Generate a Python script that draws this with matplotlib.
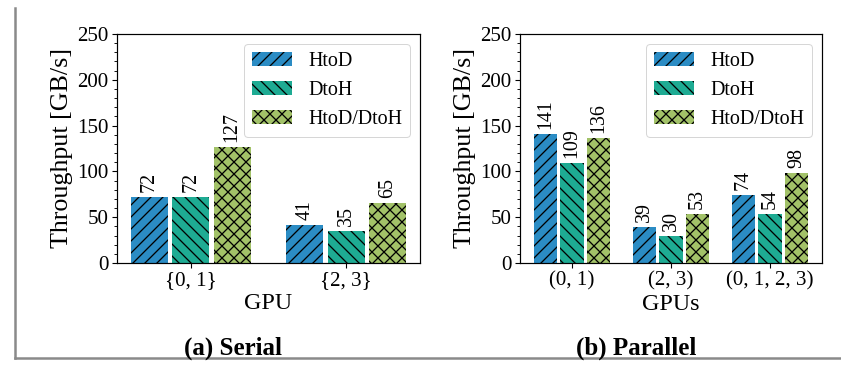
import matplotlib
matplotlib.use("Agg")
import matplotlib.pyplot as plt
import numpy as np
from matplotlib.ticker import MultipleLocator
from matplotlib.lines import Line2D

# datos
modes = ["HtoD", "DtoH", "HtoD/DtoH"]
colors = ["#2b8cc4", "#1eab93", "#a2c268"]
hatches = ["//", "\\\\", "xx"]

serial_labels = ["{0, 1}", "{2, 3}"]
serial_htod = [72, 41]
serial_dtoh = [72, 35]
serial_both = [127, 65]

parallel_labels = ["(0, 1)", "(2, 3)", "(0, 1, 2, 3)"]
parallel_htod = [141, 39, 74]
parallel_dtoh = [109, 30, 54]
parallel_both = [136, 53, 98]

plt.rcParams["font.family"] = ["Liberation Serif", "DejaVu Serif"]
plt.rcParams["hatch.linewidth"] = 1.3

DPI = 72
fig = plt.figure(figsize=(841 / DPI, 369 / DPI), dpi=DPI)
ax1 = fig.add_axes([0.1391, 0.2873, 0.3603, 0.6206])
ax2 = fig.add_axes([0.6183, 0.2873, 0.3591, 0.6206])


def draw_panel(ax, labels, series, xlabel):
    x = np.arange(len(labels))
    pitch = 0.8 / 3
    for i, vals in enumerate(series):
        pos = x + (i - 1) * pitch
        bars = ax.bar(pos, vals, width=0.24, color=colors[i], edgecolor="black",
                      linewidth=0, hatch=hatches[i], label=modes[i])
        for b, v in zip(bars, vals):
            ax.annotate(str(v), (b.get_x() + b.get_width() / 2, v),
                        xytext=(0, 5), textcoords="offset points",
                        ha="center", va="bottom", rotation=90, fontsize=20)
    ax.set_ylim(0, 250)
    ax.yaxis.set_major_locator(MultipleLocator(50))
    ax.yaxis.set_minor_locator(MultipleLocator(10))
    ax.set_xticks(x)
    ax.set_xticklabels(labels)
    ax.tick_params(axis="both", which="major", labelsize=21, length=5, width=1.1)
    ax.tick_params(axis="y", which="minor", length=3, width=0.9)
    for s in ax.spines.values():
        s.set_linewidth(1.2)
    ax.set_ylabel("Throughput [GB/s]", fontsize=26)
    ax.set_xlabel(xlabel, fontsize=24, labelpad=3)
    ax.legend(loc="upper right", fontsize=20)


draw_panel(ax1, serial_labels, [serial_htod, serial_dtoh, serial_both], "GPU")
draw_panel(ax2, parallel_labels, [parallel_htod, parallel_dtoh, parallel_both], "GPUs")

fig.text(233 / 841, 21 / 369, "(a) Serial", ha="center", va="center",
         fontsize=25, fontweight="bold")
fig.text(636 / 841, 21 / 369, "(b) Parallel", ha="center", va="center",
         fontsize=25, fontweight="bold")

# marco gris de la captura
fig.add_artist(Line2D([15 / 841, 15 / 841], [11 / 369, 361 / 369],
                      color="#8a8a8a", lw=2.5, transform=fig.transFigure))
fig.add_artist(Line2D([15 / 841, 1.0], [11 / 369, 11 / 369],
                      color="#8a8a8a", lw=2.5, transform=fig.transFigure))

fig.savefig("out.png", dpi=DPI)
